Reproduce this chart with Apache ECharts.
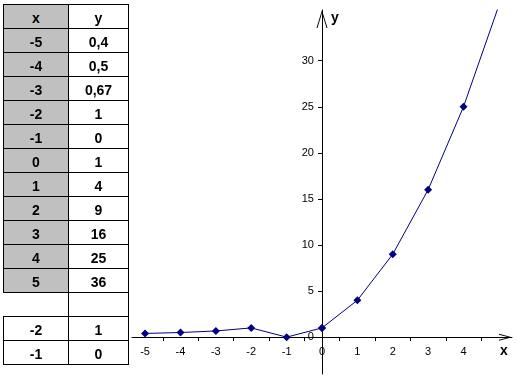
<!DOCTYPE html>
<html>
<head>
<meta charset="utf-8">
<script src="https://cdn.jsdelivr.net/npm/echarts@6/dist/echarts.min.js"></script>
<style>
  html, body { margin: 0; padding: 0; background: #fff; }
  #wrap { position: relative; width: 518px; height: 378px; overflow: hidden; }
  #chart { position: absolute; left: 0; top: 0; width: 518px; height: 378px; }
  .cell { position: absolute; box-sizing: border-box; border: 1px solid #000;
          font: bold 14px Arial, "Liberation Sans", sans-serif; color: #000;
          text-align: center; line-height: 27px; white-space: nowrap; }
  .gray { background: #c0c0c0; }
  .white { background: #fff; }
</style>
</head>
<body>
<div id="wrap">
  <div id="chart"></div>
  <div id="table"></div>
</div>
<script>
// ---- data ----
const xValues = [-5, -4, -3, -2, -1, 0, 1, 2, 3, 4, 5];
const yValues = [0.4, 0.5, 0.67, 1, 0, 1, 4, 9, 16, 25, 36];
const xTickLabels = [-5, -4, -3, -2, -1, 0, 1, 2, 3, 4];
const xTickMarks = [-4.5, -3.5, -2.5, -1.5, -0.5, 0.5, 1.5, 2.5, 3.5, 4.5];
const yTickLabels = [0, 5, 10, 15, 20, 25, 30];
const tableHeader = ['x', 'y'];
const tableX = ['-5', '-4', '-3', '-2', '-1', '0', '1', '2', '3', '4', '5'];
const tableY = ['0,4', '0,5', '0,67', '1', '0', '1', '4', '9', '16', '25', '36'];
const extraX = ['-2', '-1'];
const extraY = ['1', '0'];

// ---- table ----
(function buildTable() {
  const t = document.getElementById('table');
  const colL = [3, 68], colW = [66, 61], rowH = 25, top0 = 4, step = 24;
  function cell(col, row, text, cls, noBorder) {
    const d = document.createElement('div');
    d.className = 'cell ' + cls;
    d.style.left = colL[col] + 'px';
    d.style.top = (top0 + step * row) + 'px';
    d.style.width = colW[col] + 'px';
    d.style.height = rowH + 'px';
    if (noBorder) { d.style.borderLeft = 'none'; d.style.borderRight = 'none'; }
    d.textContent = text;
    t.appendChild(d);
  }
  cell(0, 0, tableHeader[0], 'gray');
  cell(1, 0, tableHeader[1], 'white');
  tableX.forEach((v, i) => { cell(0, i + 1, v, 'gray'); cell(1, i + 1, tableY[i], 'white'); });
  const blank = tableX.length + 1;
  cell(0, blank, '', 'white', true);
  cell(1, blank, '', 'white');
  extraX.forEach((v, i) => { cell(0, blank + 1 + i, v, 'white'); cell(1, blank + 1 + i, extraY[i], 'white'); });
})();

// ---- chart ----
const chart = echarts.init(document.getElementById('chart'), null, { renderer: 'canvas' });
const font = 'Arial, "Liberation Sans", sans-serif';
const X_MIN = -5.37, X_MAX = 5.37, Y_MIN = -4, Y_MAX = 35.5;
const PX_X = 35.38, PX_Y = 9.215;           // pixels per unit
const LEFT = 132, TOP = 10;
const ZERO_X = LEFT + (0 - X_MIN) * PX_X;   // pixel of x = 0
const ZERO_Y = TOP + (Y_MAX - 0) * PX_Y;    // pixel of y = 0
const axisCol = '#000';
const lineCommon = { onZero: false, lineStyle: { color: axisCol, width: 1 } };
const labelCommon = { color: '#000', fontSize: 11, fontFamily: 'Arial' };

// left half (x <= 0) and right half (x >= 0) of the same series
const leftPts = [], rightPts = [];
xValues.forEach((x, i) => {
  if (x <= 0) leftPts.push([x, yValues[i]]);
  if (x >= 0) rightPts.push([x, yValues[i]]);
});
const seriesStyle = {
  type: 'line', symbol: 'diamond', symbolSize: 8, showSymbol: true, clip: true,
  lineStyle: { color: '#000080', width: 1 }, itemStyle: { color: '#000080' }
};

const option = {
  animation: false,
  backgroundColor: '#fff',
  grid: [
    { left: LEFT, top: TOP, width: ZERO_X - LEFT, height: ZERO_Y - TOP, outerBoundsMode: 'none' },
    { left: ZERO_X, top: TOP, width: (X_MAX - 0) * PX_X, height: ZERO_Y - TOP, outerBoundsMode: 'none' },
    { left: ZERO_X, top: ZERO_Y, width: 10, height: (0 - Y_MIN) * PX_Y, outerBoundsMode: 'none' }
  ],
  xAxis: [
    { gridIndex: 0, type: 'value', min: X_MIN, max: 0, position: 'bottom',
      axisLine: lineCommon,
      axisTick: { show: true, customValues: xTickMarks.filter(v => v < 0), length: 4, lineStyle: { color: axisCol } },
      axisLabel: Object.assign({ margin: 9, customValues: xTickLabels.filter(v => v < 0) }, labelCommon),
      splitLine: { show: false } },
    { gridIndex: 1, type: 'value', min: 0, max: X_MAX, position: 'bottom',
      axisLine: Object.assign({}, lineCommon, {
        symbol: ['none', 'path://M3.5,0 L7,13 L6,13 L3.5,3.5 L1,13 L0,13 Z'],
        symbolSize: [7, 13], symbolOffset: [0, -6.5] }),
      axisTick: { show: true, customValues: xTickMarks.filter(v => v > 0), length: 4, lineStyle: { color: axisCol } },
      axisLabel: Object.assign({ margin: 9, customValues: xTickLabels.filter(v => v >= 0) }, labelCommon),
      splitLine: { show: false } },
    { gridIndex: 2, type: 'value', min: 0, max: 1, show: false }
  ],
  yAxis: [
    { gridIndex: 0, type: 'value', min: 0, max: Y_MAX, show: false },
    { gridIndex: 1, type: 'value', min: 0, max: Y_MAX, position: 'left',
      axisLine: Object.assign({}, lineCommon, {
        symbol: ['none', 'path://M5.5,0 L11,18 L10,18 L5.5,3 L1,18 L0,18 Z'],
        symbolSize: [11, 18], symbolOffset: [0, -9] }),
      axisTick: { show: true, customValues: yTickLabels, length: 4, lineStyle: { color: axisCol } },
      axisLabel: Object.assign({ margin: 8, customValues: yTickLabels }, labelCommon),
      splitLine: { show: false } },
    { gridIndex: 2, type: 'value', min: Y_MIN, max: 0, position: 'left',
      axisLine: lineCommon, axisTick: { show: false }, axisLabel: { show: false }, splitLine: { show: false } }
  ],
  graphic: [
    { type: 'text', left: 331, top: 11, style: { text: 'y', fill: '#000', font: 'bold 14px ' + font } },
    { type: 'text', left: 500, top: 344, style: { text: 'x', fill: '#000', font: 'bold 14px ' + font } }
  ],
  series: [
    Object.assign({ xAxisIndex: 0, yAxisIndex: 0, data: leftPts }, seriesStyle),
    Object.assign({ xAxisIndex: 1, yAxisIndex: 1, data: rightPts }, seriesStyle)
  ]
};
chart.setOption(option);
</script>
</body>
</html>
